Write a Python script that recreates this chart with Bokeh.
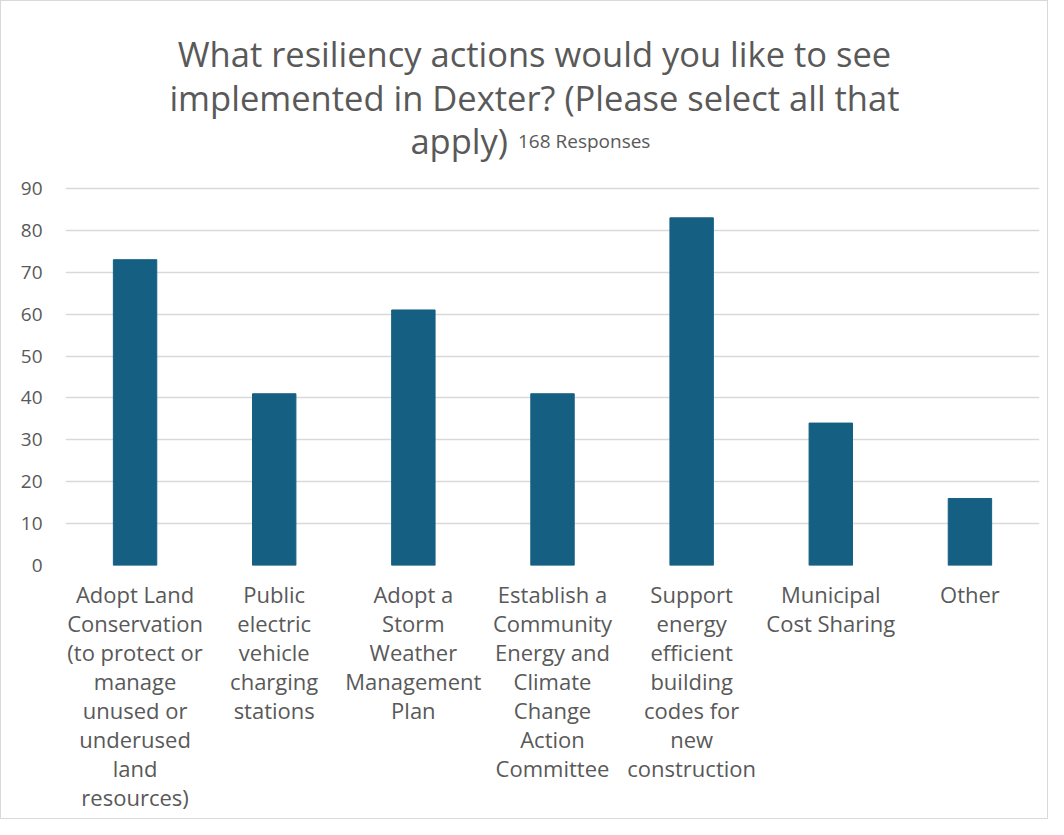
from bokeh.plotting import figure
from bokeh.models import Range1d, FixedTicker, Label, LinearAxis
from bokeh.embed import file_html
from bokeh.resources import INLINE

categories = [
    "Adopt Land\nConservation\n(to protect or\nmanage\nunused or\nunderused\nland\nresources)",
    "Public\nelectric\nvehicle\ncharging\nstations",
    "Adopt a\nStorm\nWeather\nManagement\nPlan",
    "Establish a\nCommunity\nEnergy and\nClimate\nChange\nAction\nCommittee",
    "Support\nenergy\nefficient\nbuilding\ncodes for\nnew\nconstruction",
    "Municipal\nCost Sharing",
    "Other",
]
values = [73, 41, 61, 41, 83, 34, 16]
y_ticks = [0, 10, 20, 30, 40, 50, 60, 70, 80, 90]
title_lines = [
    "What resiliency actions would you like to see",
    "implemented in Dexter? (Please select all that",
    "apply)",
]
subtitle = "168 Responses"

FONT = "Open Sans"
TXT = "#595959"
BAR = "#156082"
GRID = "#d9d9d9"

W, H = 1048, 819
# target frame geometry in page pixels (figure is placed at 8,8)
FL, FR, FT, FB = 71.5, 1045.6, 195.0, 572.0
YMAX = 90
PX_PER_UNIT = (FB - FT) / YMAX
Y_TOP = (FB - 8) / PX_PER_UNIT  # frame extends to top of canvas (title area)

N = len(categories)
xs = list(range(N))

p = figure(
    x_range=Range1d(-0.5, N - 0.5),
    y_range=Range1d(0, Y_TOP),
    width=W, height=H,
    output_backend="svg", toolbar_location=None,
    min_border_left=int(round(FL - 8)), min_border_right=int(round(W + 8 - FR)),
    min_border_top=0, min_border_bottom=int(round(H + 8 - FB)),
)
p.styles = {"border": "1px solid #d9d9d9"}
p.outline_line_color = None
p.background_fill_color = "white"
p.border_fill_color = "white"

p.vbar(x=xs, top=values, width=0.312, fill_color=BAR, line_color=BAR)

p.xgrid.grid_line_color = None
p.ygrid.grid_line_color = GRID
p.ygrid.grid_line_width = 1.5

yax = p.yaxis[0]
yax.ticker = FixedTicker(ticks=y_ticks)
yax.bounds = (0, YMAX)
yax.major_label_standoff = 23
yax.major_label_text_font_size = "19px"
p.ygrid.bounds = (0, YMAX)

cat_lines = [c.split("\n") for c in categories]
n_lines = max(len(l) for l in cat_lines)
for k in range(n_lines):
    if k == 0:
        ax = p.xaxis[0]
        ax.ticker = FixedTicker(ticks=xs)
        ax.major_label_standoff = 13
    else:
        ax = LinearAxis(ticker=FixedTicker(ticks=xs))
        ax.major_label_standoff = -4
        p.add_layout(ax, "below")
    ax.major_label_overrides = {
        i: (lines[k] if k < len(lines) else " ") for i, lines in enumerate(cat_lines)
    }
    ax.major_label_text_font_size = "22px"

for ax in p.axis:
    ax.axis_line_color = None
    ax.major_tick_line_color = None
    ax.minor_tick_line_color = None
    ax.major_tick_out = 0
    ax.major_tick_in = 0
    ax.major_label_text_color = TXT
    ax.major_label_text_font = FONT


def dx(px):
    return (px - FL) / (FR - FL) * N - 0.5


def dy(py):
    return (FB - py) / PX_PER_UNIT


title_baselines = [60, 103.5, 147]
for i, line in enumerate(title_lines):
    last = i == len(title_lines) - 1
    p.add_layout(Label(x=dx(514 if last else 540.5), y=dy(title_baselines[i]), text=line,
                       text_align="right" if last else "center", text_baseline="alphabetic",
                       text_font=FONT, text_font_size="34.5px", text_color=TXT))

p.add_layout(Label(x=dx(524), y=dy(147), text=subtitle,
                   text_align="left", text_baseline="alphabetic",
                   text_font=FONT, text_font_size="19px", text_color=TXT))

open("out.html", "w").write(file_html(p, INLINE))
